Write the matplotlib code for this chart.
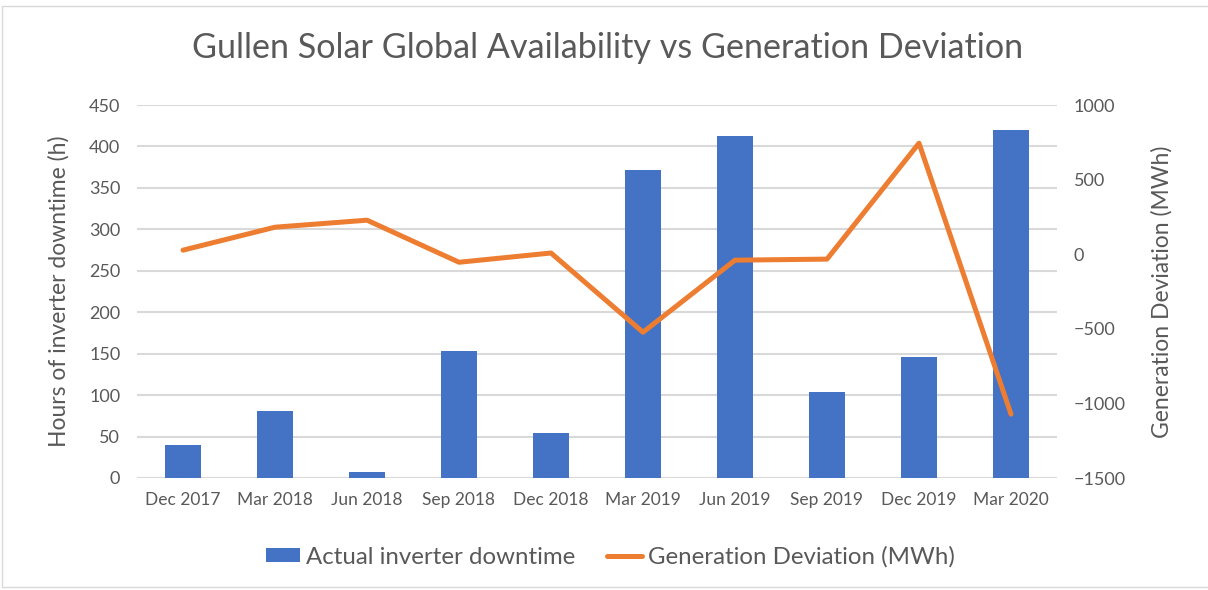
import numpy as np
import matplotlib.pyplot as plt
from matplotlib.patches import Rectangle

# ─────────────────────────────────────────
# Data
# ─────────────────────────────────────────
quarters = ['Dec 2017', 'Mar 2018', 'Jun 2018', 'Sep 2018', 'Dec 2018',
            'Mar 2019', 'Jun 2019', 'Sep 2019', 'Dec 2019', 'Mar 2020']
downtime_h = [40, 81, 7, 153, 54, 372, 413, 104, 146, 420]
gen_dev_mwh = [27, 181, 228, -54, 8, -523, -40, -33, 744, -1072]

left_ticks = np.arange(0, 451, 50)
right_ticks = np.arange(-1500, 1001, 500)

# ─────────────────────────────────────────
# Style
# ─────────────────────────────────────────
plt.rcParams['font.family'] = ['Lato', 'DejaVu Sans']
text_col = '#595959'
bar_col = '#4472C4'
line_col = '#ED7D31'
grid_col = '#D9D9D9'

fig = plt.figure(figsize=(12.08, 5.9), dpi=100)
ax1 = fig.add_axes([137 / 1208, 1 - 478 / 590, 920 / 1208, 373 / 590])
ax2 = ax1.twinx()

x = np.arange(len(quarters))
ax1.bar(x, downtime_h, width=0.4, color=bar_col, zorder=2,
        label='Actual inverter downtime')
ax2.plot(x, gen_dev_mwh, color=line_col, lw=3.6, solid_capstyle='round',
         solid_joinstyle='round', label='Generation Deviation (MWh)')

ax1.set_xlim(-0.5, len(quarters) - 0.5)
ax1.set_ylim(0, 450)
ax2.set_ylim(-1500, 1000)
ax1.set_yticks(left_ticks)
ax2.set_yticks(right_ticks)
ax1.set_xticks(x)
ax1.set_xticklabels(quarters)

ax1.yaxis.grid(True, color=grid_col, lw=1.5, zorder=0)
ax1.set_axisbelow(True)
for ax in (ax1, ax2):
    for s in ax.spines.values():
        s.set_visible(False)
    ax.tick_params(length=0, colors=text_col, labelsize=13)
ax1.tick_params(axis='x', pad=10, labelsize=12.5)
ax1.tick_params(axis='y', pad=12)
ax2.tick_params(axis='y', pad=12)
ax1.axhline(0, color=grid_col, lw=1.5, zorder=1)

ax1.set_ylabel('Hours of inverter downtime (h)', fontsize=16.5, color=text_col,
               labelpad=14)
ax2.set_ylabel('Generation Deviation (MWh)', fontsize=16.5, color=text_col,
               labelpad=18)

fig.text(0.503, 1 - 48 / 590, 'Gullen Solar Global Availability vs Generation Deviation',
         ha='center', va='center', fontsize=24.6, color=text_col)

h1, l1 = ax1.get_legend_handles_labels()
h2, l2 = ax2.get_legend_handles_labels()
fig.legend(h1 + h2, l1 + l2, loc='center', bbox_to_anchor=(0.505, 1 - 557 / 590),
           ncol=2, frameon=False, fontsize=17.3, labelcolor=text_col,
           handlelength=1.45, handleheight=0.5, handletextpad=0.25,
           columnspacing=1.3)

# thin chart-area border
fig.patches.append(Rectangle((2 / 1208, 0.005), 1.2, 1 - 6 / 590 - 0.005,
                             transform=fig.transFigure, fill=False,
                             edgecolor='#D9D9D9', lw=1))

plt.savefig('out.png', dpi=100)
